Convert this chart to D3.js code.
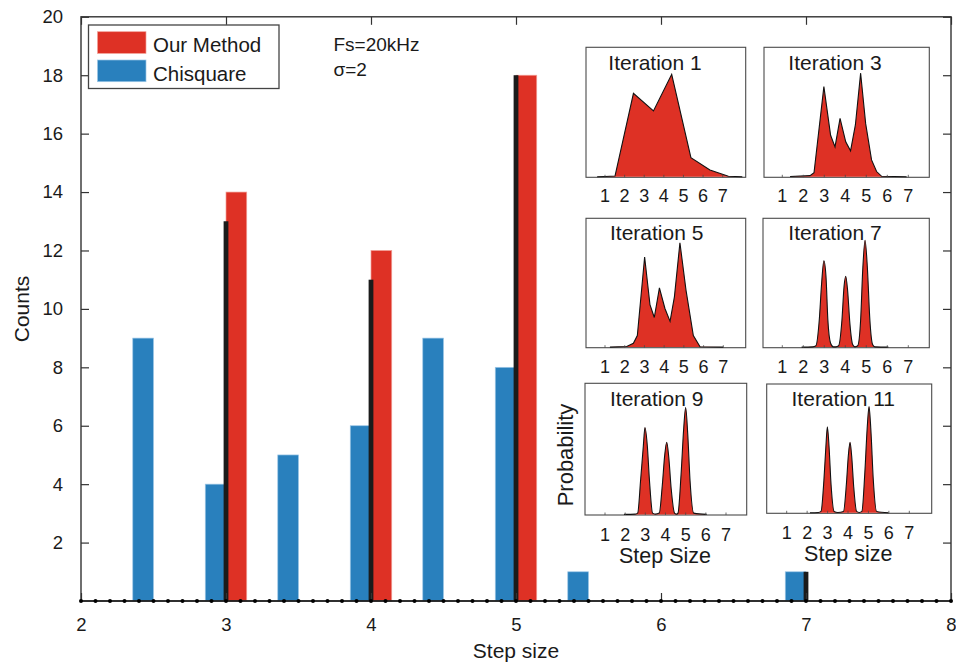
<!DOCTYPE html>
<html>
<head>
<meta charset="utf-8">
<script src="https://cdn.jsdelivr.net/npm/d3@7"></script>
<style>
  body { margin: 0; background: #fff; }
  svg { display: block; font-family: "Liberation Sans", Arial, Helvetica, sans-serif; }
</style>
</head>
<body>
<svg id="chart" width="956" height="667"></svg>
<script>
// ---- main histogram data ----
const stepGroups      = [2.5, 3, 3.5, 4, 4.5, 5, 5.5, 7];
const ourMethodCounts = [0, 14, 0, 12, 0, 18, 0, 0];
const chisquareCounts = [9, 4, 5, 6, 9, 8, 1, 1];
const trueSteps       = [3, 4, 5, 7];
const trueCounts      = [13, 11, 18, 1];
// zero-valued stems on the 0.1 grid
const stemSteps = [2.0, 2.1, 2.2, 2.3, 2.4, 2.5, 2.6, 2.7, 2.8, 2.9,
                   3.0, 3.1, 3.2, 3.3, 3.4, 3.5, 3.6, 3.7, 3.8, 3.9,
                   4.0, 4.1, 4.2, 4.3, 4.4, 4.5, 4.6, 4.7, 4.8, 4.9,
                   5.0, 5.1, 5.2, 5.3, 5.4, 5.5, 5.6, 5.7, 5.8, 5.9,
                   6.0, 6.1, 6.2, 6.3, 6.4, 6.5, 6.6, 6.7, 6.8, 6.9,
                   7.0, 7.1, 7.2, 7.3, 7.4, 7.5, 7.6, 7.7, 7.8, 7.9, 8.0];
const xTicks = [2, 3, 4, 5, 6, 7, 8];
const yTicks = [2, 4, 6, 8, 10, 12, 14, 16, 18, 20];
const legendLabels = ["Our Method", "Chisquare"];
const infoLines = ["Fs=20kHz", "\u03c3=2"];

// ---- inset distributions: [step size, relative probability] ----
const insetTitles = ["Iteration 1", "Iteration 3", "Iteration 5", "Iteration 7", "Iteration 9", "Iteration 11"];
const insetTicks = [1, 2, 3, 4, 5, 6, 7];
const iter1 = [[0.6,0],[1.0,0.002],[1.51,0.005],[2.45,0.644],[3.47,0.508],[4.4,0.791],[5.38,0.147],[6.35,0.052],[7.29,0.003],[8.0,0]];
const iter3 = [[1.37,0.001],[2.32,0.008],[2.51,0.03],[2.98,0.696],[3.30,0.32],[3.51,0.23],[3.75,0.45],[4.02,0.27],[4.25,0.2],[4.48,0.4],[4.73,0.80],[4.97,0.41],[5.25,0.13],[5.49,0.04],[5.73,0.003],[6.92,0]];
const iter5 = [[1.25,0],[2.1,0.005],[2.44,0.03],[2.64,0.09],[3.01,0.70],[3.28,0.33],[3.50,0.23],[3.76,0.46],[4.04,0.30],[4.30,0.20],[4.52,0.39],[4.80,0.81],[5.11,0.44],[5.48,0.09],[5.82,0.003],[7.0,0]];
const iter7 = [[1.92,0],[2.45,0.002],[2.6,0.01],[2.76,0.21],[2.87,0.49],[2.98,0.67],[3.08,0.55],[3.17,0.21],[3.3,0.03],[3.43,0.002],[3.55,0.002],[3.68,0.01],[3.84,0.21],[3.94,0.47],[4.02,0.55],[4.11,0.44],[4.22,0.18],[4.35,0.02],[4.46,0.002],[4.59,0.01],[4.73,0.21],[4.83,0.6],[4.94,0.83],[5.05,0.62],[5.17,0.21],[5.3,0.02],[5.41,0.002],[6.05,0]];
const iter9 = [[1.94,0],[2.5,0.002],[2.62,0.01],[2.77,0.27],[2.9,0.52],[2.98,0.663],[3.1,0.52],[3.2,0.27],[3.36,0.01],[3.5,0.002],[3.69,0.01],[3.84,0.22],[3.96,0.45],[4.06,0.55],[4.16,0.44],[4.28,0.2],[4.45,0.01],[4.55,0.002],[4.62,0.01],[4.77,0.3],[4.9,0.65],[5.0,0.815],[5.1,0.62],[5.22,0.25],[5.4,0.01],[6.04,0]];
const iter11 = [[2.14,0],[2.55,0.002],[2.68,0.01],[2.82,0.25],[2.92,0.52],[2.99,0.668],[3.07,0.52],[3.17,0.22],[3.32,0.01],[3.5,0.002],[3.78,0.01],[3.92,0.22],[4.02,0.45],[4.1,0.547],[4.18,0.44],[4.28,0.2],[4.42,0.01],[4.55,0.002],[4.68,0.01],[4.82,0.3],[4.94,0.66],[5.03,0.824],[5.12,0.64],[5.24,0.25],[5.4,0.01],[5.98,0]];

// ---- styling / layout ----
const RED = "#de3125", BLUE = "#2980bd", DARK = "#1b1b1b", AXIS = "#333";
const svg = d3.select("#chart");
const plot = { left: 81, right: 951, top: 16.8, bottom: 601 };

const x = d3.scaleLinear().domain([2, 8]).range([plot.left, plot.right]);
const y = d3.scaleLinear().domain([0, 20]).range([plot.bottom, plot.top]);
const barUnits = 0.143;     // width of one bar in step-size units
const trueUnits = 0.033;    // width of the thin reference bars
const bw = x(2 + barUnits) - x(2);
const tw = x(2 + trueUnits) - x(2);

// Chisquare bars sit left of each group position, ours to the right
const groups = stepGroups.map((s, i) => ({ s, our: ourMethodCounts[i], chi: chisquareCounts[i] }));
svg.append("g").selectAll("rect").data(groups.filter(d => d.chi > 0)).join("rect")
  .attr("x", d => x(d.s) - bw).attr("width", bw)
  .attr("y", d => y(d.chi)).attr("height", d => y(0) - y(d.chi))
  .attr("fill", BLUE).attr("stroke", "#9cc6e6").attr("stroke-width", 0.7);
svg.append("g").selectAll("rect").data(groups.filter(d => d.our > 0)).join("rect")
  .attr("x", d => x(d.s)).attr("width", bw)
  .attr("y", d => y(d.our)).attr("height", d => y(0) - y(d.our))
  .attr("fill", RED).attr("stroke", "#f2a097").attr("stroke-width", 0.7);
svg.append("g").selectAll("rect").data(trueSteps.map((s, i) => ({ s, v: trueCounts[i] }))).join("rect")
  .attr("x", d => x(d.s) - tw / 2).attr("width", tw)
  .attr("y", d => y(d.v)).attr("height", d => y(0) - y(d.v))
  .attr("fill", DARK);

// axes with inward ticks on all four sides
function styleAxis(g) {
  g.select(".domain").remove();
  g.selectAll(".tick line").attr("stroke", AXIS).attr("stroke-width", 1.2);
  g.selectAll(".tick text").attr("fill", "#1a1a1a").style("font-size", "18.5px");
}
svg.append("g").attr("transform", `translate(0,${plot.bottom})`)
  .call(d3.axisBottom(x).tickValues(xTicks).tickSize(-8).tickPadding(17).tickFormat(d3.format("d")))
  .call(styleAxis);
svg.append("g").attr("transform", `translate(0,${plot.top})`)
  .call(d3.axisTop(x).tickValues(xTicks).tickSize(-8).tickFormat(""))
  .call(styleAxis);
svg.append("g").attr("transform", `translate(${plot.left},0)`)
  .call(d3.axisLeft(y).tickValues(yTicks).tickSize(-8).tickPadding(18).tickFormat(d3.format("d")))
  .call(styleAxis);
svg.append("g").attr("transform", `translate(${plot.right},0)`)
  .call(d3.axisRight(y).tickValues(yTicks).tickSize(-8).tickFormat(""))
  .call(styleAxis);

// frame
svg.append("rect")
  .attr("x", plot.left).attr("y", plot.top)
  .attr("width", plot.right - plot.left).attr("height", plot.bottom - plot.top)
  .attr("fill", "none").attr("stroke", AXIS).attr("stroke-width", 1.4);

// zero stems: baseline plus dot markers
svg.append("line")
  .attr("x1", x(2)).attr("x2", x(8)).attr("y1", y(0)).attr("y2", y(0))
  .attr("stroke", DARK).attr("stroke-width", 1.4);
svg.append("g").selectAll("circle").data(stemSteps).join("circle")
  .attr("cx", d => x(d)).attr("cy", y(0)).attr("r", 2).attr("fill", "#000");

// axis titles
svg.append("text").attr("x", (plot.left + plot.right) / 2).attr("y", 658)
  .attr("text-anchor", "middle").style("font-size", "21px").attr("fill", "#1a1a1a")
  .text("Step size");
svg.append("text").attr("transform", "translate(29,309) rotate(-90)")
  .attr("text-anchor", "middle").style("font-size", "21px").attr("fill", "#1a1a1a")
  .text("Counts");

// legend
const lg = svg.append("g");
lg.append("rect").attr("x", 88.5).attr("y", 25).attr("width", 190.5).attr("height", 63.5)
  .attr("fill", "#fff").attr("stroke", "#444").attr("stroke-width", 1.3);
[RED, BLUE].forEach((c, i) => {
  lg.append("rect").attr("x", 97.5).attr("y", 31.7 + i * 28.3).attr("width", 48.5).attr("height", 21.7)
    .attr("fill", c).attr("stroke", i ? "#9cc6e6" : "#f2a097").attr("stroke-width", 0.7);
  lg.append("text").attr("x", 153).attr("y", 51.5 + i * 29.3)
    .style("font-size", "20.5px").attr("fill", "#1a1a1a").text(legendLabels[i]);
});

// recording parameters
infoLines.forEach((t, i) => {
  svg.append("text").attr("x", 333.5).attr("y", 50.7 + i * 25)
    .style("font-size", "19px").attr("fill", "#1a1a1a").text(t);
});

// ---- insets ----
const insets = [
  { data: iter1,  curve: d3.curveLinear,    box: [586, 47.3, 745.7, 177.3],  t1: 605,   t7: 722.7, tickY: 201.5, title: [655, 69.5] },
  { data: iter3,  curve: d3.curveLinear,    box: [764, 47.3, 929.3, 177.3],  t1: 782.3, t7: 908.3, tickY: 201.5, title: [835, 69.5] },
  { data: iter5,  curve: d3.curveLinear,    box: [586, 218.3, 745.7, 347.7], t1: 605,   t7: 723.3, tickY: 373,   title: [656.7, 239.5] },
  { data: iter7,  curve: d3.curveMonotoneX, box: [763, 218.3, 929.3, 347.7], t1: 782.3, t7: 908.3, tickY: 373,   title: [835, 239.5] },
  { data: iter9,  curve: d3.curveMonotoneX, box: [585, 383.3, 746.7, 515],   t1: 605,   t7: 726,   tickY: 540.5, title: [656.7, 406] },
  { data: iter11, curve: d3.curveMonotoneX, box: [766.7, 384, 931.7, 513.3], t1: 786.7, t7: 909.3, tickY: 539,   title: [843.3, 406] }
];

insets.forEach((p, i) => {
  const [x0, y0, x1, y1] = p.box;
  const g = svg.append("g");
  const ix = d3.scaleLinear().domain([1, 7]).range([p.t1, p.t7]);
  const iy = d3.scaleLinear().domain([0, 1]).range([y1 - 0.6, y0]);

  g.append("rect").attr("x", x0).attr("y", y0).attr("width", x1 - x0).attr("height", y1 - y0)
    .attr("fill", "#fff").attr("stroke", "#4a4a4a").attr("stroke-width", 1.1);

  g.append("path").datum(p.data)
    .attr("d", d3.area().x(d => ix(d[0])).y0(iy(0)).y1(d => iy(d[1])).curve(p.curve))
    .attr("fill", RED);
  g.append("path").datum(p.data)
    .attr("d", d3.line().x(d => ix(d[0])).y(d => iy(d[1])).curve(p.curve))
    .attr("fill", "none").attr("stroke", "#111").attr("stroke-width", 1.1);

  // small inward ticks along the bottom edge
  g.selectAll("line.tk").data(insetTicks).join("line").attr("class", "tk")
    .attr("x1", d => ix(d)).attr("x2", d => ix(d)).attr("y1", y1).attr("y2", y1 - 2.5)
    .attr("stroke", "#4a4a4a").attr("stroke-width", 0.8);
  g.selectAll("text.tl").data(insetTicks).join("text").attr("class", "tl")
    .attr("x", d => ix(d)).attr("y", p.tickY).attr("text-anchor", "middle")
    .style("font-size", "18px").attr("fill", "#1a1a1a").text(d => d);

  g.append("text").attr("x", p.title[0]).attr("y", p.title[1]).attr("text-anchor", "middle")
    .style("font-size", "21px").attr("fill", "#1a1a1a").text(insetTitles[i]);
});

// inset axis titles
svg.append("text").attr("x", 665).attr("y", 563).attr("text-anchor", "middle")
  .style("font-size", "21.5px").attr("fill", "#1a1a1a").text("Step Size");
svg.append("text").attr("x", 848.3).attr("y", 561).attr("text-anchor", "middle")
  .style("font-size", "21.5px").attr("fill", "#1a1a1a").text("Step size");
svg.append("text").attr("transform", "translate(573,455) rotate(-90)").attr("text-anchor", "middle")
  .style("font-size", "22px").attr("fill", "#1a1a1a").text("Probability");
</script>
</body>
</html>
